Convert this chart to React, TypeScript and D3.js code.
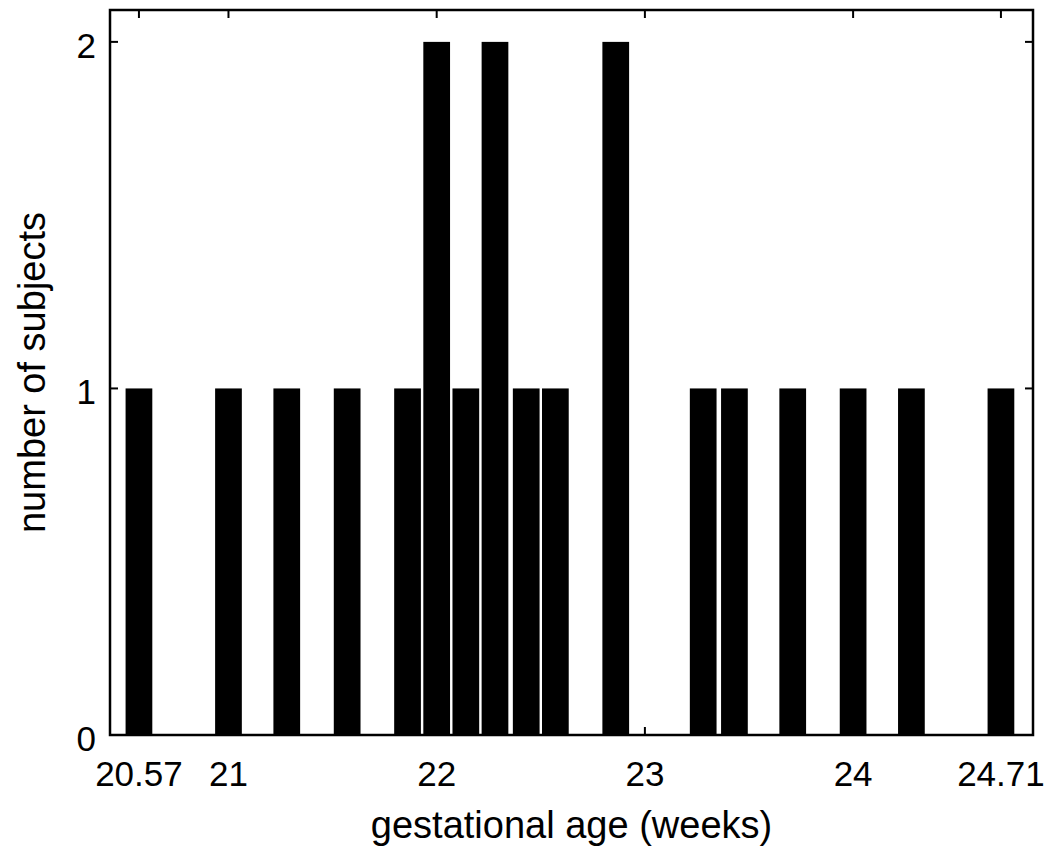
import React, { useEffect, useRef } from 'react';
import * as d3 from 'd3';

// histogram bins (centres in weeks) and the count in each bin
const binCenters = [
    20.57, 20.71, 20.86, 21.0, 21.14, 21.28, 21.43, 21.57, 21.71, 21.86,
    22.0, 22.14, 22.28, 22.43, 22.57, 22.71, 22.86, 23.0, 23.14, 23.28,
    23.43, 23.57, 23.71, 23.85, 24.0, 24.14, 24.28, 24.42, 24.57, 24.71,
];
const counts = [
    1, 0, 0, 1, 0, 1, 0, 1, 0, 1,
    2, 1, 2, 1, 1, 0, 2, 0, 0, 1,
    1, 0, 1, 0, 1, 0, 1, 0, 0, 1,
];
const binWidth = 0.14276;

const xTicks = [20.57, 21, 22, 23, 24, 24.71];
const yTicks = [0, 1, 2];

const xTitle = 'gestational age (weeks)';
const yTitle = 'number of subjects';

const App = () => {
    const svgRef = useRef<SVGSVGElement>(null);

    useEffect(() => {
        const svg = d3.select(svgRef.current);
        svg.selectAll('*').remove();

        const width = 1050;
        const height = 863;
        const box = { left: 110, right: 1033, top: 10, bottom: 735 };
        const font = '"Liberation Sans", Arial, Helvetica, sans-serif';

        svg.attr('width', width).attr('height', height);

        const x = d3.scaleLinear().domain([20.431, 24.864]).range([box.left, box.right]);
        const y = d3.scaleLinear().domain([0, 2.092]).range([box.bottom, box.top]);

        const data = binCenters.map((c, i) => ({ c, n: counts[i] }));

        // bars
        svg.append('g')
            .selectAll('rect')
            .data(data.filter((d) => d.n > 0))
            .enter()
            .append('rect')
            .attr('x', (d) => x(d.c - binWidth / 2) + 1.5)
            .attr('width', (d) => x(d.c + binWidth / 2) - x(d.c - binWidth / 2) - 3)
            .attr('y', (d) => y(d.n))
            .attr('height', (d) => y(0) - y(d.n))
            .attr('fill', '#000');

        // ticks, inside, mirrored on all four sides
        const tickLen = 8;
        const ticks = svg.append('g').attr('stroke', '#000').attr('stroke-width', 2);
        xTicks.forEach((t) => {
            ticks.append('line').attr('x1', x(t)).attr('x2', x(t)).attr('y1', box.bottom).attr('y2', box.bottom - tickLen);
            ticks.append('line').attr('x1', x(t)).attr('x2', x(t)).attr('y1', box.top).attr('y2', box.top + tickLen);
        });
        yTicks.forEach((t) => {
            ticks.append('line').attr('x1', box.left).attr('x2', box.left + tickLen).attr('y1', y(t)).attr('y2', y(t));
            ticks.append('line').attr('x1', box.right).attr('x2', box.right - tickLen).attr('y1', y(t)).attr('y2', y(t));
        });

        // frame
        svg.append('rect')
            .attr('x', box.left)
            .attr('y', box.top)
            .attr('width', box.right - box.left)
            .attr('height', box.bottom - box.top)
            .attr('fill', 'none')
            .attr('stroke', '#000')
            .attr('stroke-width', 2.5);

        // tick labels
        svg.append('g')
            .selectAll('text')
            .data(xTicks)
            .enter()
            .append('text')
            .attr('x', (d) => x(d))
            .attr('y', 786)
            .attr('text-anchor', 'middle')
            .style('font-family', font)
            .style('font-size', '35px')
            .text((d) => String(d));

        svg.append('g')
            .selectAll('text')
            .data(yTicks)
            .enter()
            .append('text')
            .attr('x', 96)
            .attr('y', (d) => y(d) + 16)
            .attr('text-anchor', 'end')
            .style('font-family', font)
            .style('font-size', '35px')
            .text((d) => String(d));

        // axis titles
        svg.append('text')
            .attr('x', (box.left + box.right) / 2)
            .attr('y', 838)
            .attr('text-anchor', 'middle')
            .style('font-family', font)
            .style('font-size', '38px')
            .text(xTitle);

        svg.append('text')
            .attr('transform', `translate(45,${(box.top + box.bottom) / 2}) rotate(-90)`)
            .attr('text-anchor', 'middle')
            .style('font-family', font)
            .style('font-size', '38px')
            .text(yTitle);
    }, []);

    return (
        <svg ref={svgRef} style={{ position: 'absolute', left: 0, top: 0, background: '#fff' }} />
    );
};

export default App;
